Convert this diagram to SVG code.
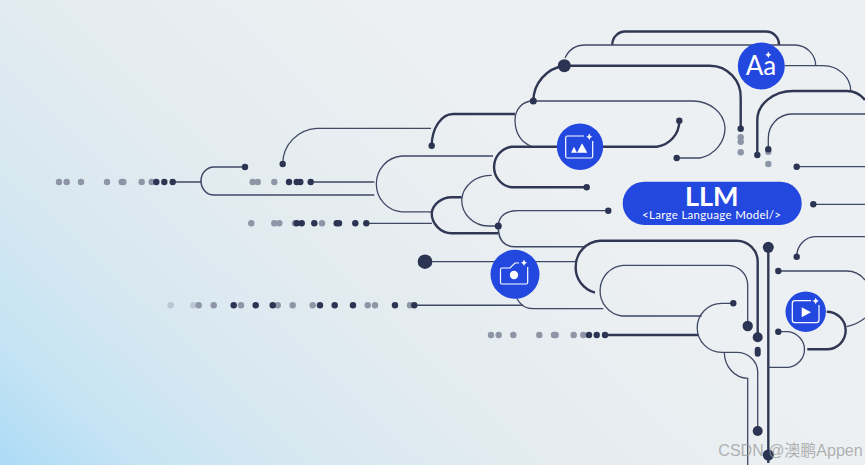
<svg xmlns="http://www.w3.org/2000/svg" width="865" height="465" viewBox="0 0 865 465">
<defs>
<linearGradient id="bg" gradientUnits="userSpaceOnUse" x1="0" y1="465" x2="420" y2="20">
<stop offset="0" stop-color="#acdbf6"/><stop offset="0.16" stop-color="#c6e4f4"/><stop offset="0.36" stop-color="#d8e8f1"/><stop offset="0.62" stop-color="#e4ecf0"/><stop offset="1" stop-color="#edf0f2"/>
</linearGradient>
<path id="spark" d="M0-3.2Q.5-.5 3.2 0Q.5.5 0 3.2Q-.5.5-3.2 0Q-.5-.5 0-3.2Z" fill="#fff"/>
</defs>
<style>
.t{fill:none;stroke:#3f4865;stroke-width:1.3}
.k{fill:none;stroke:#2f3755;stroke-width:2.4}
.d{fill:#2b3452}
.g{fill:#8d95a6}
.l{fill:#b9c7d4}
.c{fill:#2348df}
.i{fill:none;stroke:#fff;stroke-width:1.2}
.w{fill:#fff}
text{font-family:"Lato","Liberation Sans",sans-serif;fill:#fff;text-anchor:middle}
</style>
<rect width="865" height="465" fill="url(#bg)"/>
<g id="connectors">
<path class="k" d="M612.300 45V44A13 13 0 0 1 625 31.500H766A13 13 0 0 1 779 44.500V45"/>
<path class="t" d="M565 58Q571 45 585 45H795A21 21 0 0 1 815.700 65.700"/>
<path class="k" d="M533.300 101A36 36 0 0 1 564.300 65.700H710A31 31 0 0 1 740.700 98V128.700"/>
<path class="t" d="M533 101H693A32.500 28.500 0 0 1 725 127A32 31 0 0 1 700 158H676.700"/>
<path class="t" d="M533 101C522 101 515 110 515 120C515 134 522 143 531.700 146.500"/>
<path class="k" d="M515 114H453A21.500 32 0 0 0 431.700 145.700"/>
<path class="k" d="M679.300 120.700A26 26 0 0 1 656.700 146.700H511.700A20.500 20.500 0 0 0 511.700 187.300H586.700"/>
<path class="t" d="M282.700 164A36 36 0 0 1 316.700 128.300H431"/>
<path class="t" d="M493 156H401.500A27.500 28 0 0 0 401.500 211.800H432"/>
<path class="t" d="M172.700 182H201.300M310.700 182H374.300"/>
<path class="t" d="M245 167H214A13 14 0 0 0 214 195H374.300" style="stroke-width:1.500"/>
<path class="t" d="M366.300 223.300H432"/>
<path class="k" d="M461.700 197.300H451.700A20.500 18 0 0 0 431.700 212.700A20.500 20.500 0 0 0 451.700 233.300H498.300"/>
<path class="t" d="M491.700 175.300A29 26 0 0 0 461.700 200A27 26 0 0 0 488.300 226H498.300"/>
<path class="t" d="M498.300 226Q499 210.700 518 210.700H608.300"/>
<path class="t" d="M498.300 226Q498 246.700 515 246.700H585" style="stroke-width:1.600"/>
<path class="t" d="M425 261.700H575.700"/>
<path class="k" d="M595 292.700A26 26 0 0 1 575.700 266.700A26 26 0 0 1 600 240.700H736.700A21 21 0 0 1 757.700 261.700V337.300"/>
<path class="t" d="M621.700 316A25 25.500 0 0 1 623.300 265.300H728.300A20 20 0 0 1 747.700 285V326M621.700 316H701.700"/>
<path class="t" d="M414.300 305.300H523" style="stroke-width:1.600"/>
<path class="t" d="M516.700 298.300Q522 308.700 533.300 308.700H603.300"/>
<path class="k" d="M605 335H698.300"/>
<path class="t" d="M733.300 303.300H721.700A23.500 23.500 0 0 0 721.700 352.300H736.700A21 20 0 0 1 757.700 371.700V431"/>
<path class="t" d="M724.300 352.300A24 26 0 0 0 747.700 378.300V465"/>
<path class="k" d="M768.300 247.300V463"/>
<path class="t" d="M785 65.700H823A28 25 0 0 1 850.700 90.700"/>
<path class="k" d="M757.300 155V120A36 29 0 0 1 793 91H846.700Q858 91 865 100"/>
<path class="t" d="M768.300 149.300V138A24 24 0 0 1 791.700 114H865"/>
<path class="t" d="M796.700 166.700H865"/>
<path class="t" d="M813.300 204.300H865"/>
<path class="t" d="M796.700 256.700A19 20 0 0 1 815 236.700H865"/>
<path class="t" d="M778.300 271H846.700Q858 271 865 280"/>
<path class="k" d="M826.700 311.700A19 18.800 0 0 1 826.700 349.300H807.300"/>
<path class="t" d="M846.700 326.700Q858 324 865 318"/>
<path class="t" d="M778.300 331.700H788.300A19 18 0 0 1 788.300 367.300H768.300"/>
<g>
<circle class="g" cx="59" cy="182" r="3.200"/><circle class="g" cx="66.700" cy="182" r="3.200"/><circle class="g" cx="81" cy="182" r="3.200"/><circle class="g" cx="107" cy="182" r="3.200"/><circle class="g" cx="121.700" cy="182" r="3.200"/><circle class="g" cx="123.300" cy="182" r="3.200"/><circle class="g" cx="141.700" cy="182" r="3.200"/><circle class="g" cx="151.700" cy="182" r="3.200"/>
<circle class="d" cx="156.300" cy="182" r="3.200"/><circle class="d" cx="164.300" cy="182" r="3.200"/><circle class="d" cx="172.700" cy="182" r="3.200"/>
<circle class="g" cx="252.700" cy="182" r="3.200"/><circle class="g" cx="257.700" cy="182" r="3.200"/><circle class="g" cx="274.300" cy="182" r="3.200"/>
<circle class="d" cx="289" cy="182" r="3.200"/><circle class="d" cx="296.700" cy="182" r="3.200"/><circle class="d" cx="300.300" cy="182" r="3.200"/><circle class="d" cx="310.700" cy="182" r="3.200"/>
<circle class="g" cx="251.300" cy="223.300" r="3.200"/><circle class="g" cx="274.300" cy="223.300" r="3.200"/><circle class="g" cx="279.300" cy="223.300" r="3.200"/><circle class="g" cx="295" cy="223.300" r="3.200"/><circle class="g" cx="322" cy="223.300" r="3.200"/>
<circle class="d" cx="296.700" cy="223.300" r="3.200"/><circle class="d" cx="301.700" cy="223.300" r="3.200"/><circle class="d" cx="314.300" cy="223.300" r="3.200"/><circle class="d" cx="336.700" cy="223.300" r="3.200"/><circle class="d" cx="339" cy="223.300" r="3.200"/><circle class="d" cx="355.300" cy="223.300" r="3.200"/><circle class="d" cx="366.300" cy="223.300" r="3.200"/>
<circle class="l" cx="170.700" cy="305.300" r="3.200"/><circle class="l" cx="193.300" cy="305.300" r="3.200"/>
<circle class="g" cx="198.700" cy="305.300" r="3.200"/><circle class="g" cx="213.700" cy="305.300" r="3.200"/><circle class="g" cx="241" cy="305.300" r="3.200"/><circle class="g" cx="277.700" cy="305.300" r="3.200"/><circle class="g" cx="292.700" cy="305.300" r="3.200"/><circle class="g" cx="312.700" cy="305.300" r="3.200"/><circle class="g" cx="367.700" cy="305.300" r="3.200"/><circle class="g" cx="375" cy="305.300" r="3.200"/><circle class="g" cx="410" cy="305.300" r="3.200"/>
<circle class="d" cx="233.700" cy="305.300" r="3.200"/><circle class="d" cx="255.700" cy="305.300" r="3.200"/><circle class="d" cx="272.700" cy="305.300" r="3.200"/><circle class="d" cx="320" cy="305.300" r="3.200"/><circle class="d" cx="334.700" cy="305.300" r="3.200"/><circle class="d" cx="353" cy="305.300" r="3.200"/><circle class="d" cx="395" cy="305.300" r="3.200"/><circle class="d" cx="414.300" cy="305.300" r="3.200"/>
<circle class="g" cx="491" cy="335" r="3.200"/><circle class="g" cx="498.700" cy="335" r="3.200"/><circle class="g" cx="513.300" cy="335" r="3.200"/><circle class="g" cx="539.300" cy="335" r="3.200"/><circle class="g" cx="554" cy="335" r="3.200"/><circle class="g" cx="555.700" cy="335" r="3.200"/><circle class="g" cx="573.700" cy="335" r="3.200"/><circle class="g" cx="583.300" cy="335" r="3.200"/>
<circle class="d" cx="589" cy="335" r="3.200"/><circle class="d" cx="596.700" cy="335" r="3.200"/><circle class="d" cx="605" cy="335" r="3.200"/>
<circle class="g" cx="740.700" cy="137.300" r="3.200"/><circle class="g" cx="740.700" cy="141.700" r="3.200"/><circle class="g" cx="740.700" cy="152.300" r="3.200"/><circle class="g" cx="768.300" cy="151.700" r="3.200"/><circle class="g" cx="768.300" cy="164" r="3.200"/>
<circle class="d" cx="564.300" cy="65.700" r="6.500"/><circle class="d" cx="533.300" cy="101" r="3.500"/><circle class="d" cx="431.700" cy="145.700" r="3.200"/><circle class="d" cx="282.700" cy="164" r="3.200"/><circle class="d" cx="245" cy="167" r="3.200"/>
<circle class="d" cx="740.700" cy="128.700" r="3.200"/><circle class="d" cx="679.300" cy="120.700" r="3.200"/><circle class="d" cx="676.700" cy="158" r="3.200"/><circle class="d" cx="586.700" cy="187.300" r="3.200"/><circle class="d" cx="608.300" cy="210.700" r="3.200"/><circle class="d" cx="498.300" cy="226" r="3.500"/>
<circle class="d" cx="757.300" cy="155" r="3.200"/><circle class="d" cx="768.300" cy="149.300" r="3.200"/><circle class="d" cx="796.700" cy="166.700" r="3.200"/><circle class="d" cx="813.300" cy="204.300" r="3.200"/>
<circle class="d" cx="425" cy="261.700" r="7.300"/><circle class="d" cx="768.300" cy="247.300" r="5.500"/><circle class="d" cx="796.700" cy="256.700" r="3.200"/><circle class="d" cx="778.300" cy="271" r="3.200"/><circle class="d" cx="733.300" cy="303.300" r="3.200"/><circle class="d" cx="778.300" cy="331.700" r="3.200"/>
<circle class="d" cx="747.700" cy="326" r="5.200"/><circle class="d" cx="757.700" cy="337.300" r="5"/><rect class="d" x="754.700" y="346.700" width="6" height="10" rx="3"/><circle class="d" cx="757.700" cy="431" r="5"/><circle class="d" cx="768.300" cy="455" r="5.500"/>
</g>
</g>
<g id="node-llm">
<rect class="c" x="622.700" y="181.700" width="179" height="43.300" rx="21.600"/>
<text x="711.700" y="206" font-size="27" font-weight="700">LLM</text>
<text x="711.700" y="218.500" font-size="11.500" letter-spacing="0.300">&lt;Large Language Model/&gt;</text>
</g>
<g id="node-text">
<circle class="c" cx="761.300" cy="66" r="23.500"/>
<text x="761" y="75" font-size="26">Aa</text>
<use href="#spark" x="768.300" y="54.700"/>
</g>
<g id="node-image">
<circle class="c" cx="580" cy="146.700" r="23.200"/>
<path class="i" d="M584 136H567.500Q565.700 136 565.700 137.800V156.200Q565.700 158 567.500 158H591Q592.700 158 592.700 156.200V141"/>
<path class="w" d="M571 152.700H577L574 146.700ZM577 152.700H587.300L582 143.300Z"/>
<use href="#spark" x="589.300" y="136.700"/>
</g>
<g id="node-camera">
<circle class="c" cx="515" cy="274.300" r="24.500"/>
<path class="i" d="M519 263H515L510 268H502Q500.500 268 500.500 269.500V282.500Q500.500 284 502 284H526Q527.700 284 527.700 282.500V267"/>
<circle class="w" cx="514" cy="275" r="4.200"/>
<use href="#spark" x="524" y="262.700"/>
</g>
<g id="node-video">
<circle class="c" cx="805.700" cy="311.700" r="20.200"/>
<path class="i" d="M811 300.700H795Q792.300 300.700 792.300 303.400V320Q792.300 322.700 795 322.700H816.300Q819 322.700 819 320V305"/>
<path class="w" d="M801.700 307.300V317.300L811 312.300Z"/>
<use href="#spark" x="815.700" y="301"/>
</g>
<text x="790.500" y="456" font-size="16" style="font-family:'Liberation Sans','Noto Sans CJK SC',sans-serif;fill:#9a9a9a;fill-opacity:.75">CSDN @澳鹏Appen</text>
</svg>
